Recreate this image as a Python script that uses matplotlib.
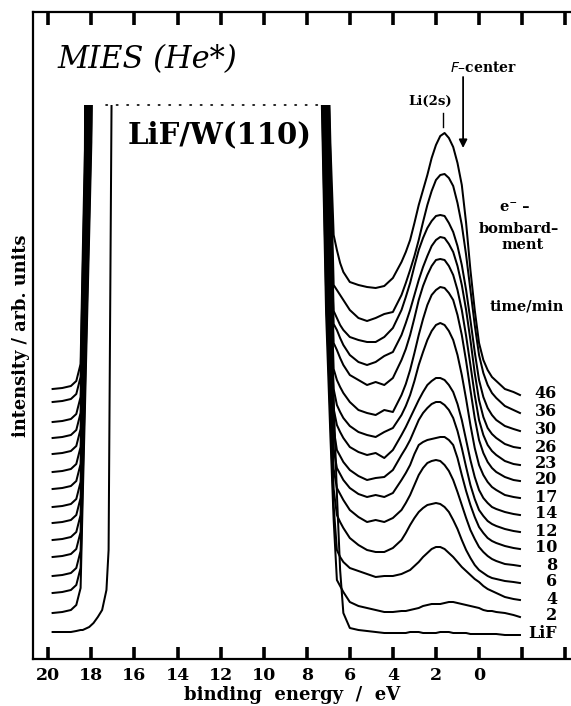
import numpy as np
import matplotlib
matplotlib.use("Agg")
import matplotlib.pyplot as plt
from matplotlib.patches import Rectangle

# ---------------- data ----------------
labels = ["LiF", "2", "4", "6", "8", "10", "12", "14", "17", "20", "23", "26", "30", "36", "46"]
# vertical offset of each spectrum (arb. units, = height of its right end)
offsets = [24, 42, 59, 76, 93, 110, 127, 144, 161, 178, 194, 211, 228, 246, 264]

energy_left = [19.8, 19.35, 18.95, 18.7, 18.5, 18.4, 18.3, 18.2, 18.1, 18.0, 17.9, 17.7, 17.5, 17.3, 17.2, 17.05]
energy_right = [7.4, 7.1, 6.9, 6.75, 6.6, 6.45, 6.3, 6.0, 5.6, 5.2, 4.8, 4.4, 4.0,
                3.6, 3.4, 3.2, 3.0, 2.8, 2.6, 2.4, 2.2, 2.0, 1.8, 1.6, 1.4, 1.2, 1.0, 0.8, 0.6,
                0.4, 0.2, 0.0, -0.2, -0.4, -0.6, -0.8, -1.2, -1.6, -1.9]

lif_L = [3, 3, 3, 4, 5, 5, 6, 7, 8, 10, 12, 18, 25, 45, 85, 575]
t02_L = [4, 5, 7, 12, 29, 120, 207, 297, 384, 475, 700, 700, 700, 700, 700, 700]
t04_L = [7, 8, 10, 15, 32, 123, 210, 300, 387, 478, 700, 700, 700, 700, 700, 700]
t06_L = [7, 8, 10, 15, 32, 124, 211, 303, 391, 482, 700, 700, 700, 700, 700, 700]
t08_L = [9, 10, 12, 17, 34, 126, 214, 298, 386, 700, 700, 700, 700, 700, 700, 700]
t10_L = [9, 10, 12, 17, 34, 127, 216, 309, 398, 700, 700, 700, 700, 700, 700, 700]
t12_L = [9, 10, 12, 17, 34, 128, 218, 312, 402, 700, 700, 700, 700, 700, 700, 700]
t14_L = [8, 9, 11, 16, 33, 128, 219, 314, 405, 700, 700, 700, 700, 700, 700, 700]
t17_L = [9, 10, 12, 17, 34, 130, 222, 318, 700, 700, 700, 700, 700, 700, 700, 700]
t20_L = [9, 10, 12, 17, 34, 132, 225, 323, 700, 700, 700, 700, 700, 700, 700, 700]
t23_L = [11, 12, 14, 19, 36, 135, 229, 328, 700, 700, 700, 700, 700, 700, 700, 700]
t26_L = [10, 11, 13, 18, 35, 136, 233, 334, 700, 700, 700, 700, 700, 700, 700, 700]
t30_L = [9, 10, 12, 17, 34, 138, 237, 700, 700, 700, 700, 700, 700, 700, 700, 700]
t36_L = [11, 12, 14, 19, 36, 141, 241, 700, 700, 700, 700, 700, 700, 700, 700, 700]
t46_L = [6, 7, 9, 14, 31, 141, 245, 700, 700, 700, 700, 700, 700, 700, 700, 700]

lif_R = [620, 491, 326, 235, 141, 65, 22, 7, 5, 4, 3, 2, 2,
         2, 2, 3, 3, 3, 2, 2, 2, 2, 3, 3, 3, 2, 2, 2, 2, 1, 1, 1, 1, 1, 1, 1,
         0, 0, 0]
t02_R = [620, 303, 180, 97, 37, 31, 25, 15, 11, 9, 7, 5, 5,
         6, 6, 7, 8, 9, 11, 12, 13, 13, 13, 14, 15, 15, 14, 13, 12, 11, 10, 9, 7, 6, 6, 5,
         4, 2, 0]
t04_R = [620, 308, 183, 94, 50, 43, 38, 32, 29, 26, 23, 24, 24,
         26, 28, 30, 34, 38, 43, 47, 51, 53, 53, 51, 47, 43, 38, 33, 29, 25, 21, 18, 14, 11, 9, 7,
         3, 1, 0]
t06_R = [620, 318, 186, 94, 68, 61, 55, 45, 38, 33, 31, 31, 35,
         43, 50, 58, 65, 71, 75, 78, 79, 80, 79, 76, 71, 63, 54, 43, 33, 25, 18, 13, 10, 7, 5, 4,
         2, 1, 0]
t08_R = [620, 328, 189, 97, 78, 72, 66, 56, 49, 44, 46, 44, 48,
         56, 63, 71, 81, 91, 98, 103, 105, 106, 105, 101, 95, 86, 74, 61, 48, 36, 27, 19, 14, 10, 7, 5,
         2, 1, 0]
t10_R = [620, 339, 192, 100, 81, 75, 69, 61, 55, 52, 54, 52, 56,
         69, 76, 84, 95, 104, 107, 109, 110, 111, 112, 112, 109, 104, 91, 74, 58, 44, 32, 22, 16, 11, 8, 6,
         3, 1, 0]
t12_R = [620, 349, 195, 103, 82, 76, 70, 62, 56, 52, 54, 55, 62,
         77, 84, 92, 102, 112, 119, 124, 128, 130, 130, 127, 122, 114, 101, 84, 65, 47, 33, 22, 16, 11, 8, 6,
         3, 1, 0]
t14_R = [620, 359, 198, 106, 90, 83, 77, 68, 63, 60, 62, 57, 65,
         80, 88, 97, 106, 115, 123, 130, 134, 137, 137, 135, 130, 123, 111, 95, 75, 55, 38, 25, 17, 12, 8, 6,
         3, 1, 0]
t17_R = [620, 370, 202, 109, 93, 86, 80, 72, 66, 63, 61, 66, 70,
         83, 92, 103, 117, 133, 146, 158, 167, 173, 175, 173, 167, 158, 143, 123, 99, 73, 50, 33, 23, 16, 11, 8,
         3, 1, 0]
t20_R = [620, 380, 212, 112, 101, 94, 88, 79, 71, 68, 66, 71, 69,
         86, 97, 111, 128, 146, 162, 176, 186, 191, 194, 193, 188, 181, 166, 146, 120, 91, 63, 41, 28, 19, 13, 9,
         4, 1, 0]
t23_R = [620, 391, 223, 122, 115, 107, 100, 90, 85, 80, 83, 80, 87,
         105, 116, 130, 147, 165, 179, 190, 199, 205, 206, 205, 199, 190, 175, 155, 129, 100, 70, 45, 30, 20, 14, 10,
         4, 1, 0]
t26_R = [620, 401, 234, 124, 118, 110, 103, 93, 86, 83, 86, 92, 96,
         113, 125, 138, 153, 168, 181, 192, 202, 208, 211, 210, 204, 196, 182, 163, 138, 108, 75, 48, 31, 20, 14, 10,
         4, 1, 0]
t30_R = [620, 412, 244, 120, 113, 106, 101, 94, 91, 89, 89, 94, 103,
         121, 134, 148, 165, 181, 193, 203, 210, 215, 216, 215, 208, 199, 185, 166, 141, 111, 79, 51, 34, 23, 16, 11,
         5, 2, 0]
t36_R = [620, 420, 253, 128, 123, 118, 113, 103, 95, 92, 95, 99, 101,
         118, 130, 143, 157, 173, 191, 208, 222, 233, 238, 239, 235, 227, 210, 188, 158, 123, 88, 58, 40, 28, 20, 15,
         7, 3, 0]
t46_R = [620, 430, 250, 160, 145, 132, 123, 113, 110, 108, 107, 109, 117,
         133, 143, 155, 172, 190, 205, 220, 237, 250, 259, 262, 257, 248, 232, 210, 172, 125, 85, 52, 35, 25, 18, 14,
         6, 3, 0]

left_parts = [lif_L, t02_L, t04_L, t06_L, t08_L, t10_L, t12_L, t14_L, t17_L, t20_L, t23_L, t26_L, t30_L, t36_L, t46_L]
right_parts = [lif_R, t02_R, t04_R, t06_R, t08_R, t10_R, t12_R, t14_R, t17_R, t20_R, t23_R, t26_R, t30_R, t36_R, t46_R]

xticks = [20, 18, 16, 14, 12, 10, 8, 6, 4, 2, 0, -2, -4]
xticklabels = ["20", "18", "16", "14", "12", "10", "8", "6", "4", "2", "0", "", ""]

cut_level = 554          # intensity where the spectra are cut off (dotted line)
cut_span = (17.3, 7.45)  # energy range of the dotted cut line

# ---------------- figure ----------------
SERIF = "DejaVu Serif"
fig = plt.figure(figsize=(5.71, 7.06), dpi=100)
ax = fig.add_axes([33 / 571, 47 / 706, 1 - 33 / 571, 647 / 706])
ax.set_xlim(20.71, -4.27)
ax.set_ylim(0, 647)

clip = Rectangle((-10, -50), 40, cut_level + 50, transform=ax.transData)

energy = energy_left + energy_right
for off, lp, rp in zip(offsets, left_parts, right_parts):
    y = np.array(lp + rp, dtype=float) + off
    ln, = ax.plot(energy, y, color="black", lw=1.45, solid_joinstyle="round")
    ln.set_clip_path(clip)

ax.plot(list(cut_span), [cut_level, cut_level], color="black", lw=1.2,
        linestyle=(0, (0.8, 5.5)), dash_capstyle="round")

# curve labels on the right
for off, lab in zip(offsets, labels):
    ax.text(-3.62, off + 1, lab, ha="right", va="center", fontsize=11.5,
            fontweight="bold", family=SERIF)

# titles and annotations
ax.text(19.58, 599, "MIES (He*)", ha="left", va="center", fontsize=22,
        style="italic", family=SERIF)
ax.text(16.33, 524, "LiF/W(110)", ha="left", va="center", fontsize=21,
        fontweight="bold", family=SERIF)
ax.text(2.27, 558, "Li(2s)", ha="center", va="center", fontsize=9.5,
        fontweight="bold", family=SERIF)
ax.plot([1.67, 1.67], [532, 546], color="black", lw=1.0)
ax.text(-0.19, 592, "$\\mathit{F}$\u2013center", ha="center", va="center", fontsize=10,
        fontweight="bold", family=SERIF)
ax.annotate("", xy=(0.74, 511), xytext=(0.74, 582),
            arrowprops=dict(arrowstyle="-|>", color="black", lw=1.3,
                            mutation_scale=12, shrinkA=0, shrinkB=0))
ax.text(-1.67, 452, "e\u207b \u2013", ha="center", va="center", fontsize=10.5,
        fontweight="bold", family=SERIF)
ax.text(-1.86, 430, "bombard\u2013", ha="center", va="center", fontsize=10.5,
        fontweight="bold", family=SERIF)
ax.text(-2.0, 414, "ment", ha="center", va="center", fontsize=10.5,
        fontweight="bold", family=SERIF)
ax.text(-2.23, 353, "time/min", ha="center", va="center", fontsize=10.5,
        fontweight="bold", family=SERIF)

# axes styling
for s in ["left", "bottom", "top"]:
    ax.spines[s].set_linewidth(1.6)
ax.spines["right"].set_visible(False)
ax.set_xticks(xticks)
ax.set_xticklabels(xticklabels, fontsize=12.5, fontweight="bold", family=SERIF)
ax.tick_params(axis="x", direction="in", length=9, width=2.6, top=True, bottom=True, pad=6)
ax.set_yticks([])

fig.text(292 / 571, 1 - 695 / 706, "binding  energy  /  eV", ha="center", va="center",
         fontsize=13, fontweight="bold", family=SERIF)
fig.text(21 / 571, 1 - 336 / 706, "intensity / arb. units", ha="center", va="center",
         rotation=90, fontsize=12.8, fontweight="bold", family=SERIF)

fig.savefig("out.png", dpi=100)
